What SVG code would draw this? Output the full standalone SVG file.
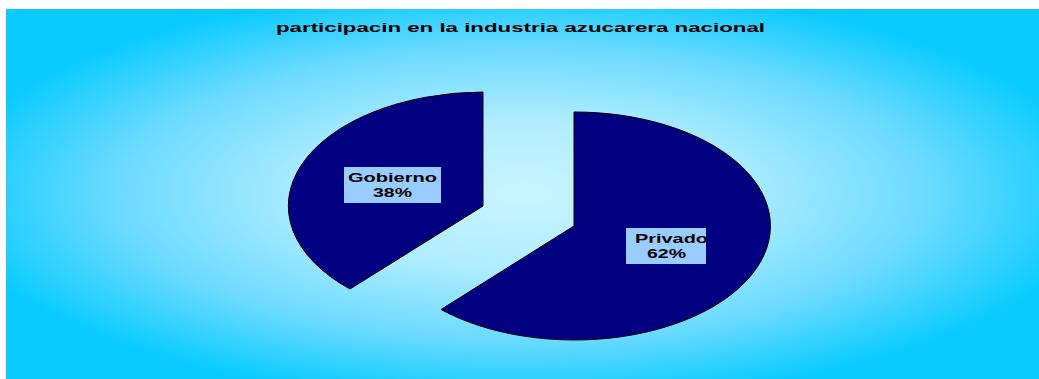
<svg xmlns="http://www.w3.org/2000/svg" width="1039" height="379" viewBox="0 0 1039 379">
  <defs>
    <radialGradient id="bg" cx="0.5" cy="0.5" r="0.56" gradientUnits="objectBoundingBox">
      <stop offset="0" stop-color="#c8f4ff"/>
      <stop offset="0.35" stop-color="#b0edff"/>
      <stop offset="0.7" stop-color="#6cdaff"/>
      <stop offset="1" stop-color="#0acbff"/>
    </radialGradient>
    <clipPath id="clipPriv"><rect x="626" y="228" width="80" height="36"/></clipPath>
  </defs>
  <style>
    .slice { fill: #000080; stroke: #000000; stroke-width: 1; }
    .lblbox { fill: #99ccff; }
    .lbl { font-family: "Liberation Sans", Arial, sans-serif; font-weight: bold; font-size: 12.5px; fill: #000000; }
    .title { font-family: "Liberation Sans", Arial, sans-serif; font-weight: bold; font-size: 13px; fill: #000000; }
  </style>
  <rect x="0" y="0" width="1039" height="379" fill="#ffffff"/>
  <rect x="6" y="9" width="1033" height="370" fill="url(#bg)"/>
  <text class="title" x="276" y="31.5" textLength="489" lengthAdjust="spacingAndGlyphs">participacin en la industria azucarera nacional</text>
  <g id="gobierno">
    <path class="slice" d="M483,206 L350,289 A196,114 0 0,1 483,92 Z"/>
    <rect class="lblbox" x="344" y="167" width="97" height="36"/>
    <text class="lbl" x="348" y="182" textLength="89" lengthAdjust="spacingAndGlyphs">Gobierno</text>
    <text class="lbl" x="373" y="196.5" textLength="39" lengthAdjust="spacingAndGlyphs">38%</text>
  </g>
  <g id="privado">
    <path class="slice" d="M574,226 L574,112 A196,114 0 1,1 441,309.5 Z"/>
    <rect class="lblbox" x="626" y="228" width="80" height="36"/>
    <g clip-path="url(#clipPriv)">
      <text class="lbl" x="635" y="243" textLength="73" lengthAdjust="spacingAndGlyphs">Privado</text>
    </g>
    <text class="lbl" x="647" y="257.5" textLength="39" lengthAdjust="spacingAndGlyphs">62%</text>
  </g>
  <g id="connectors"></g>
</svg>
